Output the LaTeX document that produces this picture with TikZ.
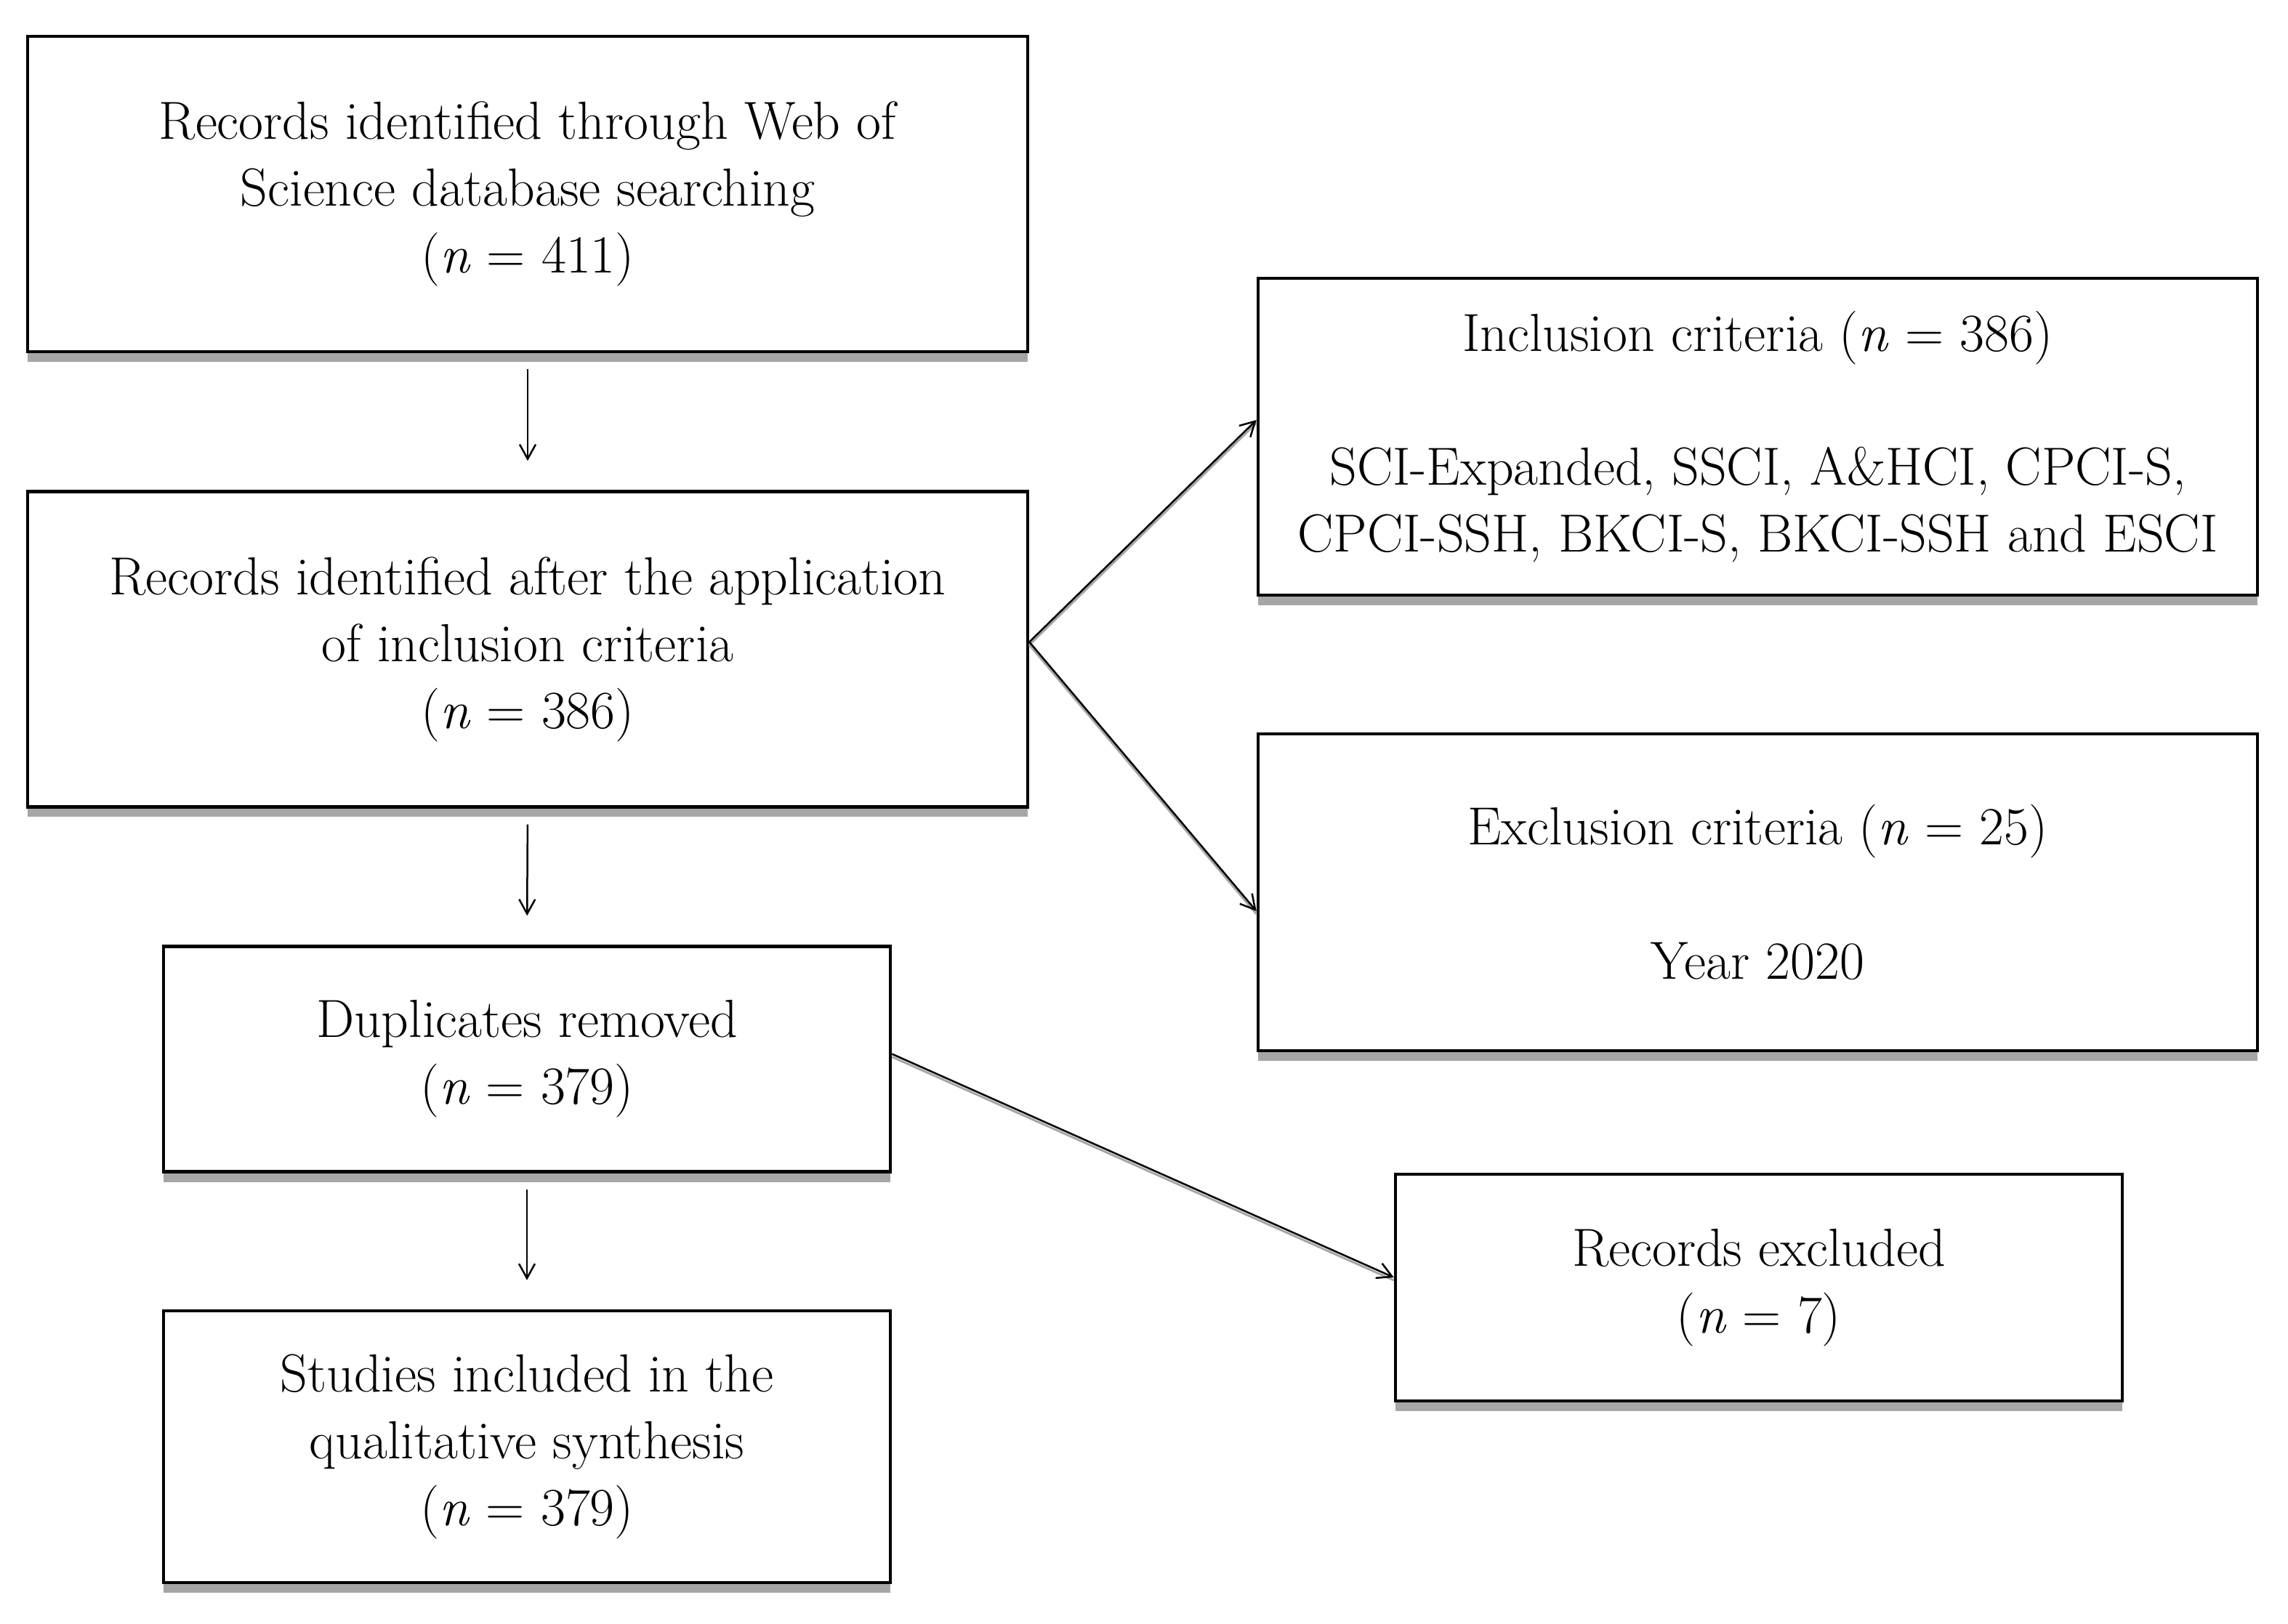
\documentclass[tikz,border=0pt]{standalone}
\usetikzlibrary{arrows.meta,shadows}
\definecolor{shadowgray}{RGB}{166,166,166}
\tikzset{
  flowbox/.style={draw=black, line width=0.045cm, fill=white, align=center, inner sep=0pt,
    font=\fontsize{21}{26.2}\selectfont,
    drop shadow={shadow xshift=0cm, shadow yshift=-0.14cm, fill=shadowgray, opacity=1}},
  flowarrow/.style={line width=0.025cm, -{Straight Barb[length=0.2cm,width=0.22cm]}},
  shadowline/.style={line width=0.03cm, draw=shadowgray},
  vgap/.style={shorten <=0.22cm, shorten >=0.40cm}
}
\begin{document}
\begin{tikzpicture}
\fill[white] (0,0) rectangle (31.48,-22.35);
\useasboundingbox (0,0) rectangle (31.48,-22.35);

\node[flowbox, minimum width=13.76cm, minimum height=4.34cm] (b1) at (7.26,-2.67)
  {Records identified through Web of\\ Science database searching\\ (\textit{n} = 411)};
\node[flowbox, minimum width=13.76cm, minimum height=4.34cm] (b2) at (7.26,-8.935)
  {Records identified after the application\\ of inclusion criteria\\ (\textit{n} = 386)};
\node[flowbox, minimum width=10.0cm, minimum height=3.1cm] (b3) at (7.25,-14.575)
  {Duplicates removed\\ (\textit{n} = 379)};
\node[flowbox, minimum width=10.0cm, minimum height=3.74cm] (b4) at (7.25,-19.91)
  {Studies included in the\\ qualitative synthesis\\ (\textit{n} = 379)};
\node[flowbox, minimum width=13.75cm, minimum height=4.36cm] (incl) at (24.185,-6.01)
  {Inclusion criteria (\textit{n} = 386)\\[26.2pt] SCI-Expanded, SSCI, A\&HCI, CPCI-S,\\ CPCI-SSH, BKCI-S, BKCI-SSH and ESCI};
\node[flowbox, minimum width=13.75cm, minimum height=4.36cm] (excl) at (24.185,-12.28)
  {Exclusion criteria (\textit{n} = 25)\\[26.2pt] Year 2020};
\node[flowbox, minimum width=10.0cm, minimum height=3.12cm] (recex) at (24.2,-17.72)
  {Records excluded\\ (\textit{n} = 7)};

\draw[flowarrow, vgap] (b1.south) -- (b2.north);
\draw[flowarrow, vgap] (b2.south) -- (b3.north);
\draw[flowarrow, vgap] (b3.south) -- (b4.north);

\draw[shadowline, transform canvas={yshift=-0.04cm}] ([yshift=0.1cm]b2.east) -- ([yshift=0.23cm]incl.west);
\draw[flowarrow] ([yshift=0.1cm]b2.east) -- ([yshift=0.23cm]incl.west);
\draw[shadowline, transform canvas={yshift=-0.04cm}] ([yshift=0.1cm]b2.east) -- ([yshift=-0.26cm]excl.west);
\draw[flowarrow] ([yshift=0.1cm]b2.east) -- ([yshift=-0.26cm]excl.west);
\draw[shadowline, transform canvas={yshift=-0.04cm}] ([yshift=0.07cm]b3.east) -- ([yshift=0.14cm]recex.west);
\draw[flowarrow] ([yshift=0.07cm]b3.east) -- ([yshift=0.14cm]recex.west);
\end{tikzpicture}
\end{document}
